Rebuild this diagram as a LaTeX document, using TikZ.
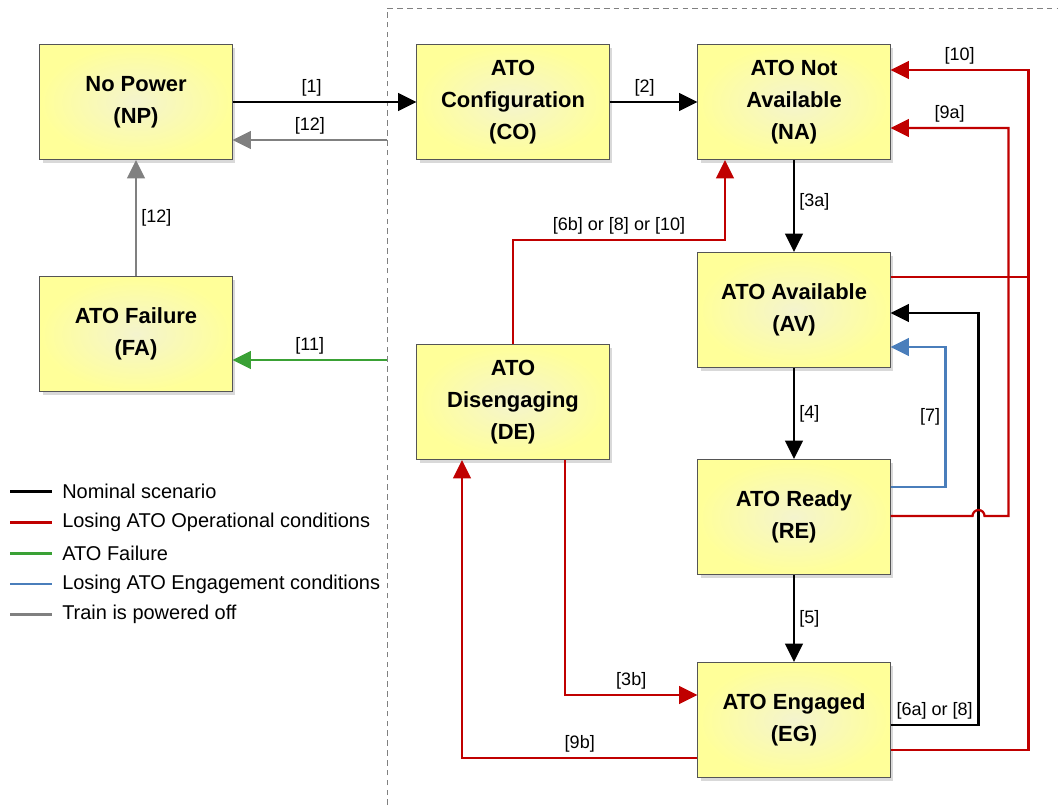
\documentclass[tikz,border=0pt]{standalone}
\usepackage{fontspec}
\setmainfont{Liberation Sans}
\usetikzlibrary{arrows.meta,calc,shadows}

\definecolor{boxfill}{HTML}{FFFF99}
\definecolor{boxcore}{HTML}{F4F4CE}
\definecolor{boxline}{HTML}{555555}
\definecolor{operred}{HTML}{C00000}
\definecolor{failgreen}{HTML}{3AA135}
\definecolor{engblue}{HTML}{4A7EBB}
\definecolor{offgray}{HTML}{808080}

\tikzset{
  state/.style={draw=boxline, line width=0.7pt, minimum width=4.8cm, minimum height=2.875cm,
    inner color=boxcore, outer color=boxfill, align=center,
    font=\bfseries\fontsize{15.6}{22.8}\selectfont,
    drop shadow={shadow xshift=0.08cm, shadow yshift=-0.08cm, fill=black!25, opacity=0.6}},
  lbl/.style={font=\fontsize{12.8}{14}\selectfont, inner sep=3pt},
  conn/.style={line width=1.6pt, -{Triangle[length=13pt,width=12.5pt]}},
  nominal/.style={conn, draw=black},
  oper/.style={conn, draw=operred},
  fail/.style={conn, draw=failgreen},
  eng/.style={conn, draw=engblue},
  off/.style={conn, draw=offgray},
}

\begin{document}
\begin{tikzpicture}[x=0.025cm, y=-0.025cm]
\useasboundingbox (0,0) rectangle (1058,805);

% onboard boundary
\draw[offgray, line width=0.7pt, dash pattern=on 4pt off 3pt] (387,805) -- (387,8) -- (1058,8);

% states
\node[state] (NP) at (136,102) {No Power\\(NP)};
\node[state] (FA) at (136,334) {ATO Failure\\(FA)};
\node[state] (CO) at (513,102) {ATO\\Configuration\\(CO)};
\node[state] (DE) at (513,402) {ATO\\Disengaging\\(DE)};
\node[state] (NA) at (794,102) {ATO Not\\Available\\(NA)};
\node[state] (AV) at (794,310) {ATO Available\\(AV)};
\node[state] (RE) at (794,517) {ATO Ready\\(RE)};
\node[state] (EG) at (794,720) {ATO Engaged\\(EG)};

\coordinate (cut12) at (387,140);
\coordinate (cut11) at (387,360);

% nominal transitions
\draw[nominal] (NP.east) -- node[lbl,above,pos=.43] {[1]} (CO.west);
\draw[nominal] (CO.east) -- node[lbl,above,pos=.4] {[2]} (NA.west);
\draw[nominal] (NA.south) -- node[lbl,right,pos=.45] {[3a]} (AV.north);
\draw[nominal] (AV.south) -- node[lbl,right] {[4]} (RE.north);
\draw[nominal] (RE.south) -- node[lbl,right] {[5]} (EG.north);
\draw[nominal] ($(EG.east)+(0,5)$) -- node[lbl,above] {[6a] or [8]} ++(88,0)
  |- ($(AV.east)+(0,3)$);

% power off and failure
\draw[off] (cut12) -- node[lbl,above] {[12]} (cut12 -| NP.east);
\draw[off] (FA.north) -- node[lbl,right] {[12]} (NP.south);
\draw[fail] (cut11) -- node[lbl,above] {[11]} (cut11 -| FA.east);

% losing engagement conditions
\draw[eng] ($(RE.east)+(0,-30)$) -- ++(55,0) |- node[lbl,left,pos=.25] {[7]} ($(AV.east)+(0,37)$);

% losing operational conditions
\draw[oper] (DE.north) |- node[lbl,above,pos=.75] {[6b] or [8] or [10]} ($(NA.south)+(-69,80)$)
  -- ($(NA.south)+(-69,0)$);
\draw[oper] ($(EG.east)+(0,30)$) -- ++(138,0) |- node[lbl,above,pos=.75] {[10]} ($(NA.east)+(0,-32)$);
\draw[operred, line width=1.6pt] ($(AV.east)+(0,-33)$) -- ++(138,0);
\draw[oper] ($(RE.east)+(0,-1)$) -- ++(82,0) arc[start angle=180, end angle=0, radius=0.15cm]
  -- ++(24,0) |- node[lbl,above,pos=.75] {[9a]} ($(NA.east)+(0,26)$);
\draw[oper] ($(DE.south)+(52,0)$) |- node[lbl,above,pos=.75] {[3b]} ($(EG.west)+(0,-25)$);
\draw[oper] ($(EG.west)+(0,38)$) -| node[lbl,above,pos=.25] {[9b]} ($(DE.south)+(-51,0)$);

% legend
\foreach \c/\t [count=\i] in {black/Nominal scenario, operred/Losing ATO Operational conditions,
    failgreen/ATO Failure, engblue/Losing ATO Engagement conditions, offgray/Train is powered off} {
  \draw[\c, line width=2pt] (10,461+30.75*\i) -- (52,461+30.75*\i);
  \node[anchor=west, inner sep=0pt, font=\fontsize{14.2}{16}\selectfont] (leg\i) at (62,461+30.75*\i) {\t};
}
\end{tikzpicture}
\end{document}
